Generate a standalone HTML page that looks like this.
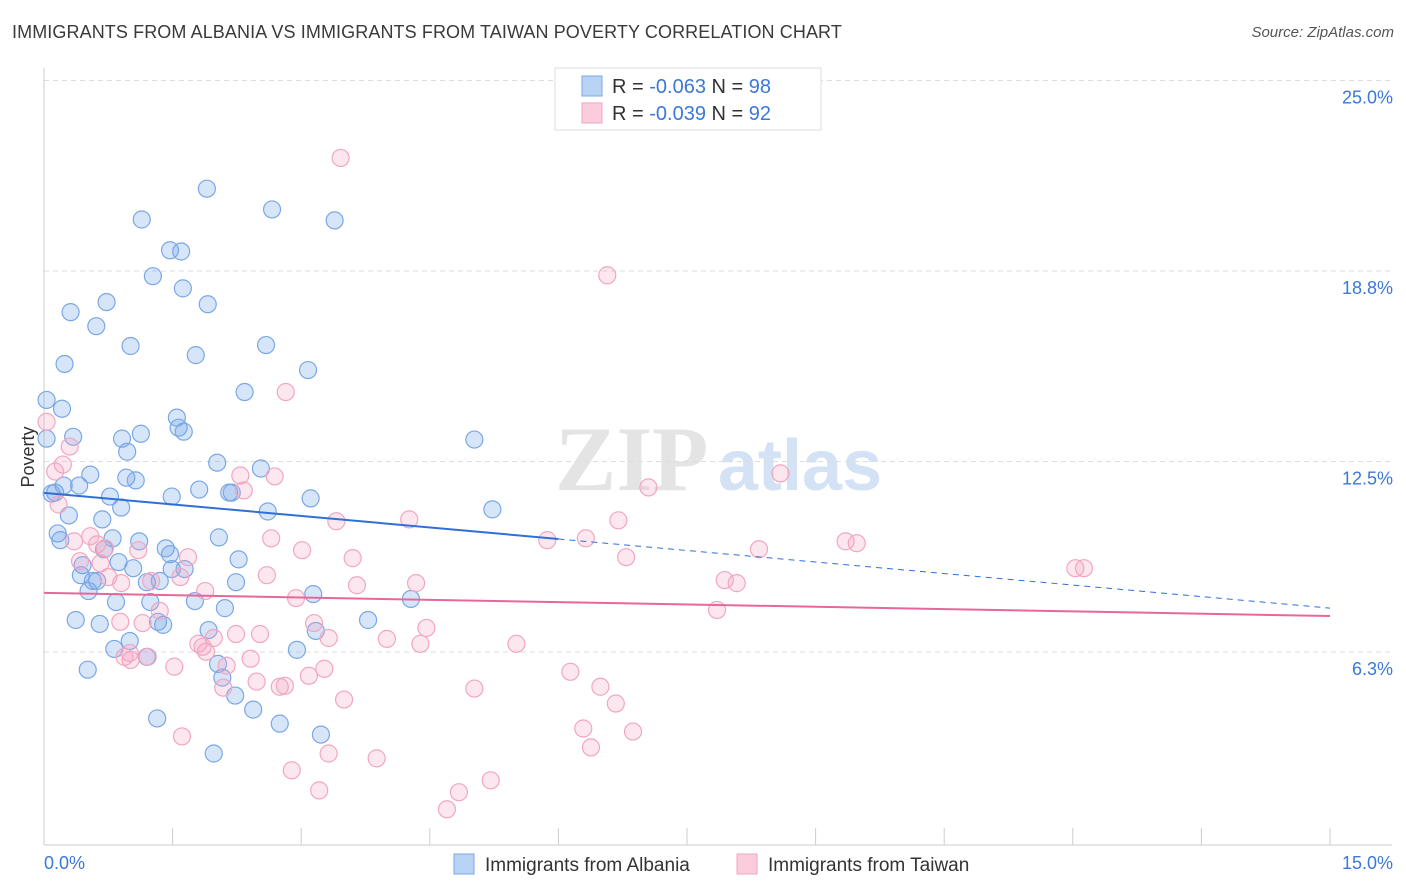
<!DOCTYPE html>
<html><head><meta charset="utf-8"><style>
body{margin:0;background:#fff;font-family:"Liberation Sans",sans-serif;}
#wrap{position:relative;width:1406px;height:892px;overflow:hidden;}
.title{position:absolute;left:12px;top:22px;font-size:18px;color:#3a3a3a;letter-spacing:0.1px;}
.src{position:absolute;right:12px;top:24px;font-size:15px;color:#555;font-style:italic;}
</style></head><body>
<div id="wrap">
<div class="title">IMMIGRANTS FROM ALBANIA VS IMMIGRANTS FROM TAIWAN POVERTY CORRELATION CHART</div>
<div class="src">Source: ZipAtlas.com</div>
<svg id="svg" width="1406" height="892" style="position:absolute;left:0;top:0"></svg>
</div>
<script>
const yTicks=[25,18.75,12.5,6.25];
const yTickLabels=["25.0%","18.8%","12.5%","6.3%"];
const xTicks=[0,1.5,3,4.5,6,7.5,9,10.5,12,13.5,15];
const xTickLabels=["0.0%","15.0%"];
const blueX=[1.90,1.14,2.66,3.39,1.47,1.60,1.27,1.62,0.73,1.91,0.31,0.61,1.01,2.59,1.77,0.24,3.08,2.34,0.03,0.21,1.55,1.57,1.63,0.34,1.13,0.91,0.03,5.02,0.97,0.54,2.02,2.53,0.96,1.07,0.41,0.23,0.13,0.09,0.77,1.49,1.81,2.16,2.19,3.11,0.29,0.68,0.90,2.61,5.23,0.16,0.19,0.80,1.11,2.04,1.42,0.70,1.47,2.27,0.45,0.87,1.04,1.49,1.64,0.43,0.62,0.57,1.20,2.24,0.52,1.35,3.14,0.84,1.24,1.76,2.11,4.28,0.37,0.65,1.33,1.39,3.78,1.92,3.17,1.00,0.82,2.95,1.20,2.03,0.51,2.08,2.23,2.44,1.32,2.75,3.23,1.98];
const blueY=[21.45,20.44,20.77,20.41,19.43,19.39,18.58,18.18,17.73,17.66,17.40,16.94,16.29,16.32,15.99,15.70,15.50,14.78,14.52,14.23,13.94,13.61,13.48,13.31,13.41,13.25,13.25,13.22,12.82,12.07,12.46,12.27,11.97,11.88,11.71,11.71,11.48,11.45,11.35,11.35,11.58,11.48,11.48,11.29,10.73,10.60,10.99,10.86,10.93,10.14,9.92,9.98,9.88,10.01,9.65,9.62,9.46,9.29,9.10,9.20,9.00,8.97,8.97,8.77,8.58,8.58,8.54,8.54,8.25,8.58,8.15,7.89,7.89,7.92,7.69,7.99,7.30,7.17,7.24,7.14,7.30,6.97,6.94,6.61,6.35,6.32,6.09,5.86,5.67,5.41,4.82,4.36,4.07,3.90,3.54,2.92];
const pinkX=[3.46,6.57,2.82,0.03,0.30,0.22,0.13,0.17,2.69,2.29,2.33,7.05,8.59,6.70,3.41,4.26,0.54,2.65,5.87,6.32,9.35,9.48,0.35,0.62,0.71,1.10,3.01,3.60,6.79,8.34,12.03,12.13,0.42,0.66,1.68,0.75,1.59,2.60,7.94,8.08,0.90,1.25,1.88,3.65,4.34,2.94,1.35,7.85,0.89,1.15,3.15,4.46,3.32,2.24,2.52,4.00,1.98,1.80,1.85,4.39,5.51,1.00,1.21,1.01,2.41,0.94,1.89,2.13,1.52,3.27,3.09,6.14,2.48,2.75,2.81,2.09,5.02,6.49,3.50,6.67,6.29,6.87,1.61,6.38,3.32,3.88,2.89,5.21,3.21,4.84,4.70];
const pinkY=[22.46,18.61,14.78,13.80,12.99,12.40,12.17,11.09,12.01,12.04,11.55,11.65,12.11,10.57,10.54,10.60,10.05,9.98,9.92,9.98,9.88,9.82,9.88,9.78,9.65,9.59,9.59,9.33,9.36,9.62,9.00,9.00,9.23,9.16,9.36,8.71,8.71,8.77,8.61,8.51,8.51,8.58,8.25,8.44,8.51,8.02,7.60,7.63,7.24,7.20,7.20,7.04,6.71,6.84,6.84,6.68,6.71,6.52,6.42,6.52,6.52,6.22,6.09,5.99,6.03,6.09,6.26,5.80,5.77,5.70,5.47,5.60,5.28,5.11,5.14,5.08,5.05,5.11,4.69,4.56,3.74,3.64,3.48,3.12,2.92,2.76,2.37,2.04,1.71,1.65,1.09];
const blueLine=[11.47,7.69];
const blueSolidEnd=6;
const pinkLine=[8.19,7.43];

const NS="http://www.w3.org/2000/svg";
const svg=document.getElementById('svg');
const X0=44,X1=1330,Y0=842.5,YT=80.5;
function sx(v){return X0+(X1-X0)*v/15;}
function sy(v){return Y0-(Y0-YT)*v/25;}
function el(t,a,p){const e=document.createElementNS(NS,t);for(const k in a)e.setAttribute(k,a[k]);(p||svg).appendChild(e);return e;}
function txt(s,a){const e=el('text',a);e.textContent=s;return e;}

// watermark
let w=txt('ZIP',{x:555,y:490,'font-size':92,'font-family':'Liberation Serif, serif',fill:'#e4e4e4','font-weight':'bold'});


w=txt('atlas',{x:718,y:490,'font-size':72,'font-family':'Liberation Sans, sans-serif',fill:'#d3e2f4','font-weight':'bold'});



yTicks.forEach((v,i)=>{
  const g=el('line',{x1:X0,x2:1392,y1:sy(v),y2:sy(v),stroke:'#ddd','stroke-dasharray':'5,4','stroke-width':1});
  
  
  const t=txt(yTickLabels[i],{x:1393,y:sy(v)+23,'text-anchor':'end','font-size':18,fill:'#3b78d8'});
  
  
});
let ax=el('line',{x1:X0,x2:X0,y1:68,y2:845,stroke:'#ccc'});


ax=el('line',{x1:X0,x2:1392,y1:845,y2:845,stroke:'#ccc'});


xTicks.forEach(v=>{
  const t=el('line',{x1:sx(v),x2:sx(v),y1:828,y2:845,stroke:'#ccc'});
  
  
});
let xl=txt(xTickLabels[0],{x:44,y:869,'font-size':18,fill:'#3b78d8'});


xl=txt(xTickLabels[1],{x:1393,y:869,'text-anchor':'end','font-size':18,fill:'#3b78d8'});


let yt=txt('Poverty',{x:0,y:0,'font-size':18,fill:'#333',transform:'translate(34,457) rotate(-90)','text-anchor':'middle'});



blueX.forEach((v,i)=>{
  const c=el('circle',{cx:sx(v),cy:sy(blueY[i]),r:8.5,fill:'rgba(110,160,230,0.28)',stroke:'#7aa8e6','stroke-width':1.2});
  
  
});
pinkX.forEach((v,i)=>{
  const c=el('circle',{cx:sx(v),cy:sy(pinkY[i]),r:8.5,fill:'rgba(245,160,190,0.25)',stroke:'#f2a6c0','stroke-width':1.2});
  
  
});
function lineY(arr,x){return arr[0]+(arr[1]-arr[0])*x/15;}
let l=el('line',{x1:sx(0),y1:sy(blueLine[0]),x2:sx(blueSolidEnd),y2:sy(lineY(blueLine,blueSolidEnd)),stroke:'#2f6fd6','stroke-width':2});


l=el('line',{x1:sx(blueSolidEnd),y1:sy(lineY(blueLine,blueSolidEnd)),x2:sx(15),y2:sy(blueLine[1]),stroke:'#2f6fd6','stroke-width':1,'stroke-dasharray':'6,5'});


l=el('line',{x1:sx(0),y1:sy(pinkLine[0]),x2:sx(15),y2:sy(pinkLine[1]),stroke:'#e8679a','stroke-width':2});



// top legend
let lg=el('rect',{x:555,y:68,width:266,height:62,fill:'#fff',stroke:'#ddd'});


[[0,'#b9d3f5','#7aa8e6','-0.063','98'],[1,'#fbcddc','#f2a6c0','-0.039','92']].forEach(r=>{
  const y=76+r[0]*27;
  const s=el('rect',{x:582,y:y,width:20,height:20,fill:r[1],stroke:r[2]});
  
  
  const t=el('text',{x:612,y:y+17,'font-size':20,fill:'#333'});
  t.innerHTML='R = <tspan fill="#3b78d8">'+r[3]+'</tspan>   N = <tspan fill="#3b78d8">'+r[4]+'</tspan>';
  t.setAttribute('xml:space','preserve');
  
  
});
// bottom legend
[[454,'#b9d3f5','#7aa8e6','Immigrants from Albania'],[737,'#fbcddc','#f2a6c0','Immigrants from Taiwan']].forEach(r=>{
  const s=el('rect',{x:r[0],y:854,width:20,height:20,fill:r[1],stroke:r[2]});
  
  
  const t=txt(r[3],{x:r[0]+31,y:871,'font-size':19,fill:'#333'});
  
  
});
</script>
</body></html>
